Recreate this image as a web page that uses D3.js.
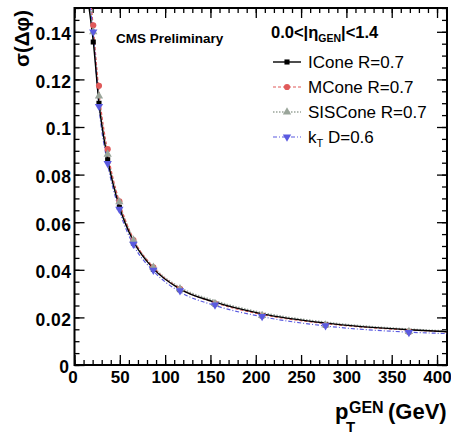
<!DOCTYPE html>
<html>
<head>
<meta charset="utf-8">
<script src="https://cdn.jsdelivr.net/npm/d3@7"></script>
<style>
body { margin: 0; background: #fff; }
svg text { font-family: "Liberation Sans", Arial, sans-serif; }
</style>
</head>
<body>
<div class="chart"></div>
<script>
// pT bin centres (GeV)
const ptValues = [20.7, 27, 36.6, 49.5, 65, 87, 116.4, 155, 207, 277, 369];

// sigma(dphi) per algorithm
const iconeValues = [0.1357, 0.110, 0.0862, 0.0663, 0.0513, 0.0402, 0.0316, 0.0256, 0.0207, 0.0168, 0.0140];
const mconeValues = [0.1427, 0.1173, 0.0907, 0.0688, 0.0525, 0.0410, 0.0320, 0.0258, 0.0208, 0.0168, 0.0140];
const sisconeValues = [0.1400, 0.1130, 0.0885, 0.0685, 0.0525, 0.0410, 0.0320, 0.0258, 0.0208, 0.0168, 0.0140];
const ktValues = [0.1400, 0.1087, 0.0847, 0.0655, 0.0508, 0.0398, 0.0312, 0.0252, 0.0204, 0.0165, 0.0137];

// fit curves
const fitPt = [15, 20.7, 27, 36.6, 49.5, 65, 87, 116, 155, 207, 277, 369, 411];
const iconeFit = [0.153, 0.136, 0.110, 0.0864, 0.0665, 0.0520, 0.0405, 0.0320, 0.0264, 0.0215, 0.0176, 0.0148, 0.0140];
const mconeFit = [0.165, 0.142, 0.115, 0.0895, 0.0685, 0.0530, 0.0410, 0.0322, 0.0262, 0.0212, 0.0174, 0.0147, 0.0140];
const sisconeFit = [0.160, 0.139, 0.1125, 0.0880, 0.0680, 0.0528, 0.0412, 0.0327, 0.0270, 0.0220, 0.0180, 0.0151, 0.0143];
const ktFit = [0.158, 0.139, 0.1085, 0.0845, 0.0650, 0.0505, 0.0395, 0.0308, 0.0250, 0.0203, 0.0164, 0.0138, 0.0132];

const legendLabels = ["ICone R=0.7", "MCone R=0.7", "SISCone R=0.7", "kT D=0.6"];

const xMajor = [0, 50, 100, 150, 200, 250, 300, 350, 400];
const yMajor = [0, 0.02, 0.04, 0.06, 0.08, 0.1, 0.12, 0.14];

const series = [
    { name: legendLabels[0], values: iconeValues, fit: iconeFit, color: "#000000", dash: null, width: 1.4, marker: "square" },
    { name: legendLabels[1], values: mconeValues, fit: mconeFit, color: "#e05a5a", dash: "3,2", width: 1.2, marker: "circle" },
    { name: legendLabels[2], values: sisconeValues, fit: sisconeFit, color: "#9aa59a", dash: "1.5,1.5", width: 1.6, marker: "triangle" },
    { name: legendLabels[3], values: ktValues, fit: ktFit, color: "#5a5ae0", dash: "4,2,1,2", width: 1.2, marker: "triangledown" }
];

const W = 451, H = 434;
const mLeft = 74.5, mRight = 447, mTop = 8, mBottom = 365;

const svg = d3.select(".chart")
    .append("svg")
    .attr("width", W)
    .attr("height", H);

const x = d3.scaleLinear().domain([0, 411]).range([mLeft, mRight]);
const y = d3.scaleLinear().domain([0, 0.15]).range([mBottom, mTop]);

svg.append("defs").append("clipPath").attr("id", "clip")
    .append("rect")
    .attr("x", mLeft).attr("y", mTop)
    .attr("width", mRight - mLeft).attr("height", mBottom - mTop);

// minor ticks
const xMinor = d3.range(0, 411, 10);
const yMinor = d3.range(0, 0.1501, 0.005);

function tickAxis(axis, transform) {
    const g = svg.append("g").attr("transform", transform).call(axis);
    g.select(".domain").remove();
    g.selectAll(".tick line").attr("stroke", "#000").attr("stroke-width", 1.3);
    return g;
}

tickAxis(d3.axisBottom(x).tickValues(xMinor).tickSize(-5).tickFormat(""), `translate(0,${mBottom})`);
tickAxis(d3.axisTop(x).tickValues(xMinor).tickSize(-5).tickFormat(""), `translate(0,${mTop})`);
tickAxis(d3.axisLeft(y).tickValues(yMinor).tickSize(-5).tickFormat(""), `translate(${mLeft},0)`);
tickAxis(d3.axisRight(y).tickValues(yMinor).tickSize(-5).tickFormat(""), `translate(${mRight},0)`);

const xAxisG = tickAxis(d3.axisBottom(x).tickValues(xMajor).tickSize(-10).tickPadding(18).tickFormat(d3.format("d")), `translate(0,${mBottom})`);
tickAxis(d3.axisTop(x).tickValues(xMajor).tickSize(-10).tickFormat(""), `translate(0,${mTop})`);
const yAxisG = tickAxis(d3.axisLeft(y).tickValues(yMajor).tickSize(-10).tickPadding(3).tickFormat(d => d === 0 ? "0" : d3.format(".2~f")(d)), `translate(${mLeft},0)`);
tickAxis(d3.axisRight(y).tickValues(yMajor).tickSize(-10).tickFormat(""), `translate(${mRight},0)`);

xAxisG.selectAll("text")
    .attr("font-size", 17).attr("font-weight", "bold").attr("fill", "#000")
    .attr("dy", "0");
xAxisG.selectAll(".tick").filter(d => d === 0).select("text").attr("dx", -2);
yAxisG.selectAll("text")
    .attr("font-size", 17.5).attr("font-weight", "bold").attr("fill", "#000")
    .attr("letter-spacing", 0.5)
    .attr("dy", "0.45em");
yAxisG.selectAll(".tick").filter(d => d === 0).select("text").attr("dy", "0.4em").attr("dx", -2);

// frame
svg.append("rect")
    .attr("x", mLeft).attr("y", mTop)
    .attr("width", mRight - mLeft).attr("height", mBottom - mTop)
    .attr("fill", "none").attr("stroke", "#000").attr("stroke-width", 2);

// fit curves
const plot = svg.append("g").attr("clip-path", "url(#clip)");
const line = d3.line()
    .x((d, i) => x(fitPt[i]))
    .y(d => y(d))
    .curve(d3.curveMonotoneX);

[2, 1, 3, 0].forEach(k => {
    const s = series[k];
    plot.append("path")
        .attr("d", line(s.fit))
        .attr("fill", "none")
        .attr("stroke", s.color)
        .attr("stroke-width", s.width)
        .attr("stroke-dasharray", s.dash);
});

// markers
const symbolType = {
    square: d3.symbolSquare,
    circle: d3.symbolCircle,
    triangle: d3.symbolTriangle,
    triangledown: d3.symbolTriangle
};

function drawMarker(g, s, cx, cy) {
    g.append("path")
        .attr("d", d3.symbol().type(symbolType[s.marker]).size(s.marker === "square" ? 26 : 30)())
        .attr("transform", `translate(${cx},${cy})` + (s.marker === "triangledown" ? " rotate(180)" : ""))
        .attr("fill", s.color);
}

[0, 1, 2, 3].forEach(k => {
    const s = series[k];
    const g = plot.append("g");
    s.values.forEach((v, i) => drawMarker(g, s, x(ptValues[i]), y(v)));
});

// legend
const legend = svg.append("g");
const t = legend.append("text")
    .attr("x", 271).attr("y", 38)
    .attr("font-size", 16.5).attr("font-weight", "bold");
t.append("tspan").text("0.0<|η");
t.append("tspan").attr("font-size", 10.5).attr("dy", 4).text("GEN");
t.append("tspan").attr("dy", -4).text("|<1.4");

series.forEach((s, i) => {
    const cy = 62 + i * 25;
    legend.append("line")
        .attr("x1", 273).attr("x2", 301)
        .attr("y1", cy).attr("y2", cy)
        .attr("stroke", s.color)
        .attr("stroke-width", s.width)
        .attr("stroke-dasharray", s.dash);
    drawMarker(legend, s, 287, cy);
    const lt = legend.append("text")
        .attr("x", 308).attr("y", cy + 6)
        .attr("font-size", 17);
    if (i === 3) {
        lt.append("tspan").text("k");
        lt.append("tspan").attr("font-size", 11).attr("dy", 4).text("T");
        lt.append("tspan").attr("dy", -4).text(" D=0.6");
    } else {
        lt.text(s.name);
    }
});

svg.append("text")
    .attr("x", 116).attr("y", 43)
    .attr("font-size", 13.5).attr("font-weight", "bold")
    .text("CMS Preliminary");

// axis titles
const xt = svg.append("text")
    .attr("font-size", 22).attr("font-weight", "bold");
xt.append("tspan").attr("x", 335).attr("y", 419).text("p");
xt.append("tspan").attr("font-size", 15).attr("x", 346).attr("y", 432).text("T");
xt.append("tspan").attr("font-size", 16).attr("x", 349).attr("y", 413).text("GEN");
xt.append("tspan").attr("x", 388).attr("y", 419).text("(GeV)");

svg.append("text")
    .attr("transform", "translate(29,10) rotate(-90)")
    .attr("text-anchor", "end")
    .attr("font-size", 20.5).attr("font-weight", "bold")
    .text("σ(Δφ)");
</script>
</body>
</html>
